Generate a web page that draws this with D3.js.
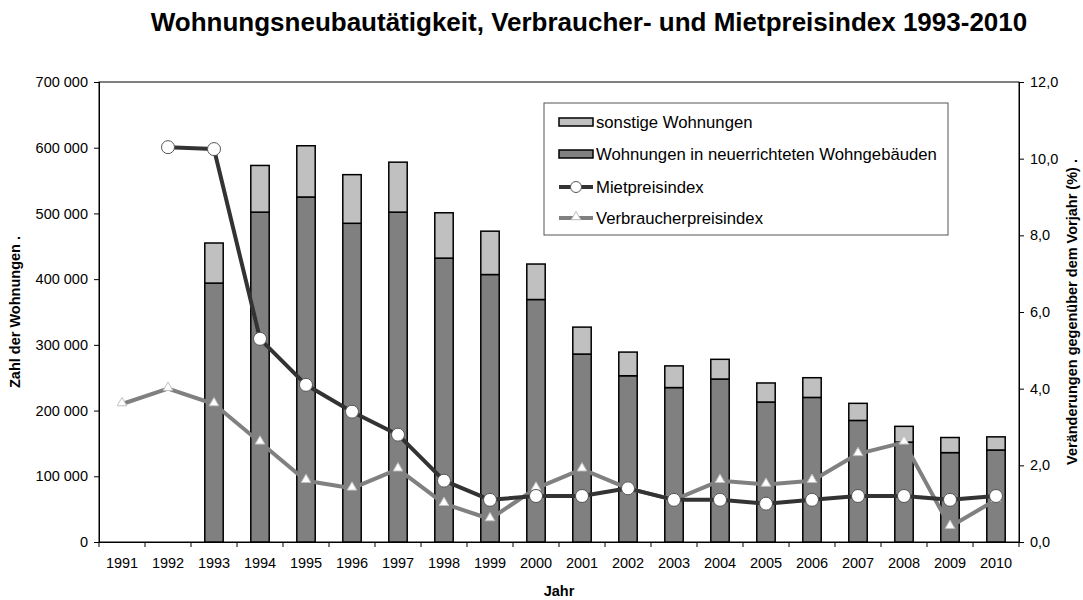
<!DOCTYPE html>
<html>
<head>
<meta charset="utf-8">
<script src="https://cdn.jsdelivr.net/npm/d3@7"></script>
<style>
  body { margin: 0; background: #fff; }
  svg { font-family: "Liberation Sans", Arial, sans-serif; }
</style>
</head>
<body>
<div id="chart"></div>
<script>
// chart values
var years = ["1991","1992","1993","1994","1995","1996","1997","1998","1999","2000",
             "2001","2002","2003","2004","2005","2006","2007","2008","2009","2010"];
// Wohnungen in neuerrichteten Wohngebäuden (lower bar part)
var wohngebaeude = [null, null, 394000, 502000, 525000, 485000, 502000, 432000, 407000, 369000,
                    286000, 253000, 235000, 248000, 213000, 220000, 185000, 152000, 136000, 140000];
// sonstige Wohnungen (upper bar part)
var sonstige = [null, null, 61000, 71000, 78000, 74000, 76000, 69000, 66000, 54000,
                41000, 36000, 33000, 30000, 29000, 30000, 26000, 24000, 23000, 20000];
// Veränderung gegenüber Vorjahr in %
var mietpreis = [null, 10.3, 10.25, 5.3, 4.1, 3.4, 2.8, 1.6, 1.1, 1.2,
                 1.2, 1.4, 1.1, 1.1, 1.0, 1.1, 1.2, 1.2, 1.1, 1.2];
var verbraucher = [3.6, 4.0, 3.6, 2.6, 1.6, 1.4, 1.9, 1.0, 0.6, 1.4,
                   1.9, 1.4, 1.1, 1.6, 1.5, 1.6, 2.3, 2.6, 0.4, 1.1];
var leftTicks = [0, 100000, 200000, 300000, 400000, 500000, 600000, 700000];
var rightTicks = [0, 2, 4, 6, 8, 10, 12];
var legendLabels = ["sonstige Wohnungen", "Wohnungen in neuerrichteten Wohngebäuden",
                    "Mietpreisindex", "Verbraucherpreisindex"];

var W = 1083, H = 600;
var plot = { left: 99, right: 1019, top: 82, bottom: 542 };

// german number formats: "700 000" and "12,0"
var de = d3.formatLocale({ decimal: ",", thousands: " ", grouping: [3], currency: ["", " €"] });
var fmtInt = de.format(",d"), fmtDec = de.format(".1f");

var svg = d3.select("#chart").append("svg")
  .attr("width", W)
  .attr("height", H);

var x = d3.scaleBand().domain(years).range([plot.left, plot.right]).padding(0);
var yL = d3.scaleLinear().domain([0, 700000]).range([plot.bottom, plot.top]);
var yR = d3.scaleLinear().domain([0, 12]).range([plot.bottom, plot.top]);
var barW = x.bandwidth() * 0.4;

// title
svg.append("text")
  .attr("x", 589).attr("y", 31)
  .attr("text-anchor", "middle")
  .style("font-size", "26px").style("font-weight", "bold")
  .text("Wohnungsneubautätigkeit, Verbraucher- und Mietpreisindex 1993-2010");

// plot frame
svg.append("rect")
  .attr("x", plot.left).attr("y", plot.top)
  .attr("width", plot.right - plot.left).attr("height", plot.bottom - plot.top)
  .attr("fill", "none").attr("stroke", "#000").attr("stroke-width", 1);

// bars
var barData = years.map(function(y, i) {
  return { year: y, low: wohngebaeude[i], high: sonstige[i] };
}).filter(function(d) { return d.low != null; });

var bars = svg.append("g");
bars.selectAll("rect.low").data(barData).enter().append("rect")
  .attr("x", function(d) { return x(d.year) + (x.bandwidth() - barW) / 2; })
  .attr("y", function(d) { return yL(d.low); })
  .attr("width", barW)
  .attr("height", function(d) { return yL(0) - yL(d.low); })
  .attr("fill", "#808080").attr("stroke", "#000").attr("stroke-width", 1.5);
bars.selectAll("rect.high").data(barData).enter().append("rect")
  .attr("x", function(d) { return x(d.year) + (x.bandwidth() - barW) / 2; })
  .attr("y", function(d) { return yL(d.low + d.high); })
  .attr("width", barW)
  .attr("height", function(d) { return yL(d.low) - yL(d.low + d.high); })
  .attr("fill", "#c0c0c0").attr("stroke", "#000").attr("stroke-width", 1.5);

// axes
var axL = svg.append("g").attr("transform", "translate(" + plot.left + ",0)")
  .call(d3.axisLeft(yL).tickValues(leftTicks).tickFormat(fmtInt).tickSizeOuter(0).tickSize(5).tickPadding(6));
var axR = svg.append("g").attr("transform", "translate(" + plot.right + ",0)")
  .call(d3.axisRight(yR).tickValues(rightTicks).tickFormat(fmtDec).tickSizeOuter(0).tickSize(5).tickPadding(6));
var axB = svg.append("g").attr("transform", "translate(0," + plot.bottom + ")")
  .call(d3.axisBottom(x).tickSize(0).tickPadding(16));
// x ticks sit on the category boundaries
axB.selectAll(".bound").data(d3.range(years.length + 1)).enter().append("line")
  .attr("x1", function(i) { return plot.left + i * x.bandwidth(); })
  .attr("x2", function(i) { return plot.left + i * x.bandwidth(); })
  .attr("y1", 0).attr("y2", 5).attr("stroke", "#000");

[axL, axR, axB].forEach(function(a) {
  a.selectAll("text").style("font-size", "14.5px").attr("fill", "#000")
    .style("font-family", "Liberation Sans, Arial, sans-serif");
  a.select(".domain").attr("stroke", "#000");
});

// lines
function drawLine(values, color) {
  var pts = years.map(function(y, i) { return { year: y, v: values[i] }; })
    .filter(function(d) { return d.v != null; });
  svg.append("path").datum(pts)
    .attr("fill", "none").attr("stroke", color).attr("stroke-width", 4)
    .attr("stroke-linejoin", "round")
    .attr("d", d3.line()
      .x(function(d) { return x(d.year) + x.bandwidth() / 2; })
      .y(function(d) { return yR(d.v); }));
  return pts;
}

var vp = drawLine(verbraucher, "#808080");
var tri = d3.symbol().type(d3.symbolTriangle).size(40);
svg.selectAll("path.tri").data(vp).enter().append("path")
  .attr("d", tri)
  .attr("transform", function(d) { return "translate(" + (x(d.year) + x.bandwidth() / 2) + "," + (yR(d.v) - 1) + ")"; })
  .attr("fill", "#fff").attr("stroke", "#c0c0c0").attr("stroke-width", 1);

var mp = drawLine(mietpreis, "#333333");
svg.selectAll("circle.mp").data(mp).enter().append("circle")
  .attr("cx", function(d) { return x(d.year) + x.bandwidth() / 2; })
  .attr("cy", function(d) { return yR(d.v); })
  .attr("r", 6.5)
  .attr("fill", "#fff").attr("stroke", "#555").attr("stroke-width", 1);

// axis titles
svg.append("text")
  .attr("transform", "translate(20," + ((plot.top + plot.bottom) / 2) + ") rotate(-90)")
  .attr("text-anchor", "middle")
  .style("font-size", "14.5px").style("font-weight", "bold")
  .text("Zahl der Wohnungen  .");
svg.append("text")
  .attr("transform", "translate(1077," + ((plot.top + plot.bottom) / 2) + ") rotate(-90)")
  .attr("text-anchor", "middle")
  .style("font-size", "14.5px").style("font-weight", "bold")
  .text("Veränderungen gegenüber dem Vorjahr (%)  .");
svg.append("text")
  .attr("x", (plot.left + plot.right) / 2).attr("y", 596)
  .attr("text-anchor", "middle")
  .style("font-size", "14.5px").style("font-weight", "bold")
  .text("Jahr");

// legend
var lg = svg.append("g");
lg.append("rect")
  .attr("x", 544).attr("y", 103).attr("width", 404).attr("height", 132)
  .attr("fill", "#fff").attr("stroke", "#555").attr("stroke-width", 1);
var rowY = [122, 154, 187, 218];
var barFills = ["#c0c0c0", "#808080"];
legendLabels.forEach(function(label, i) {
  if (i < 2) {
    lg.append("rect")
      .attr("x", 559).attr("y", rowY[i] - 4).attr("width", 34).attr("height", 8)
      .attr("fill", barFills[i]).attr("stroke", "#000").attr("stroke-width", 1.5);
  } else if (i == 2) {
    lg.append("line").attr("x1", 559).attr("x2", 593).attr("y1", rowY[i]).attr("y2", rowY[i])
      .attr("stroke", "#333333").attr("stroke-width", 4);
    lg.append("circle").attr("cx", 576).attr("cy", rowY[i]).attr("r", 5.5)
      .attr("fill", "#fff").attr("stroke", "#555");
  } else {
    lg.append("line").attr("x1", 559).attr("x2", 593).attr("y1", rowY[i]).attr("y2", rowY[i])
      .attr("stroke", "#808080").attr("stroke-width", 4);
    lg.append("path").attr("d", tri)
      .attr("transform", "translate(576," + (rowY[i] - 1) + ")")
      .attr("fill", "#fff").attr("stroke", "#c0c0c0");
  }
  lg.append("text")
    .attr("x", 596).attr("y", rowY[i]).attr("dy", "0.36em")
    .style("font-size", "16.7px")
    .text(label);
});
</script>
</body>
</html>
